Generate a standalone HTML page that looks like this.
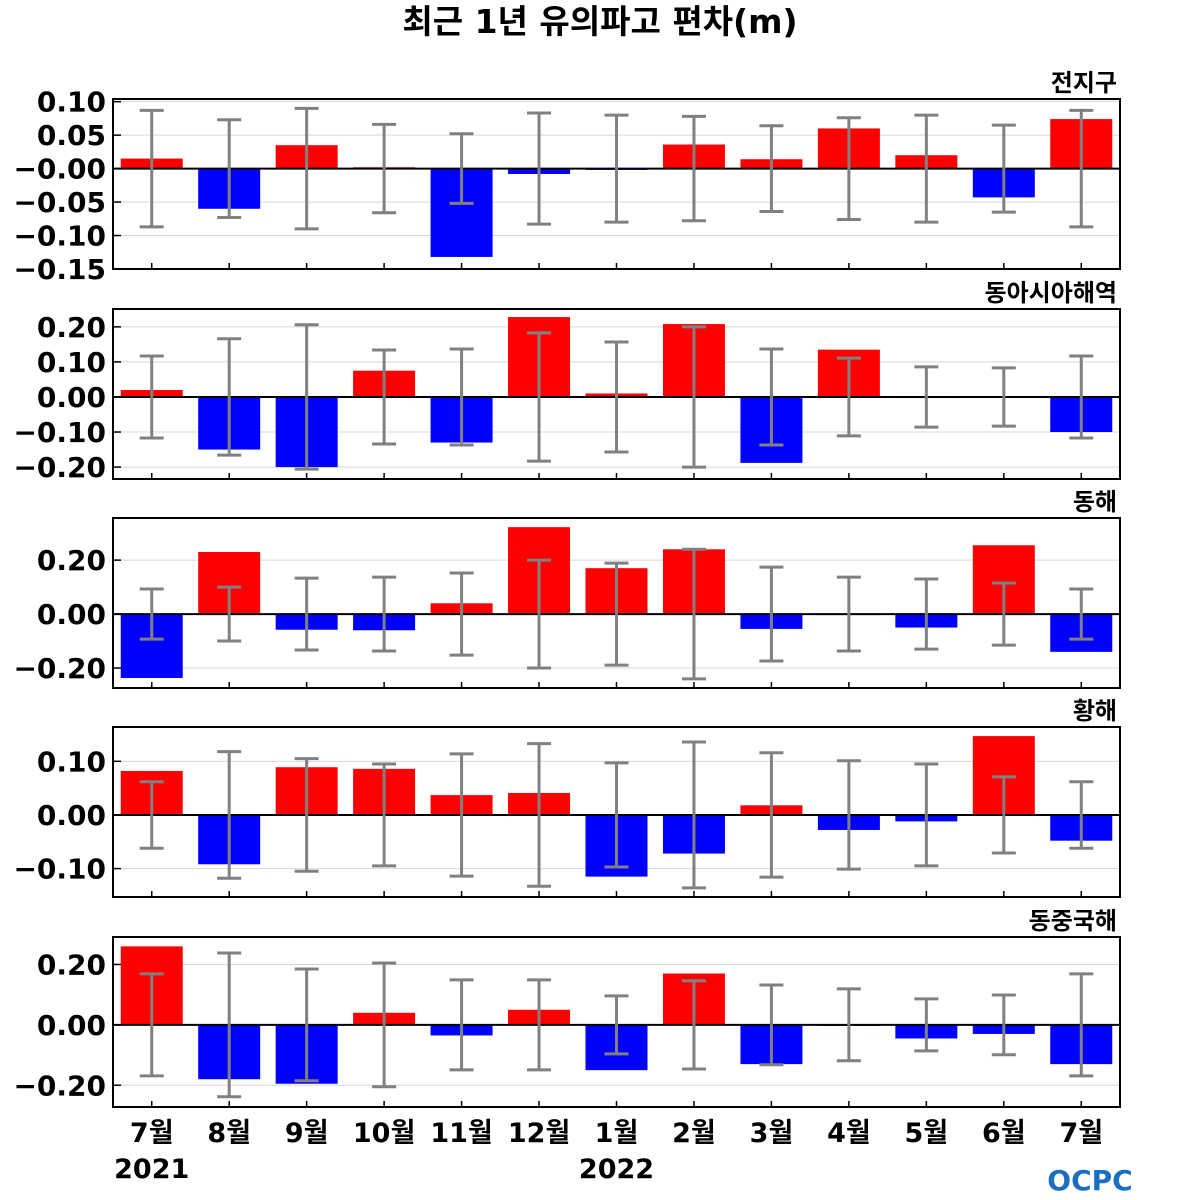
<!DOCTYPE html>
<html><head><meta charset="utf-8">
<style>
body{margin:0;background:#fff;width:1200px;height:1200px;overflow:hidden}
svg{display:block}
text{font-family:"DejaVu Sans","Noto Sans CJK KR",sans-serif;font-weight:bold}
</style></head>
<body>
<svg id="chart" width="1200" height="1200">
<text x="600" y="33" text-anchor="middle" font-size="33">최근 1년 유의파고 편차(m)</text>
<g id="panels"></g>
<text x="1090" y="1190" text-anchor="middle" font-size="28" fill="#1a6fc0" font-family="Liberation Sans">OCPC</text>
</svg>
<script>
const categories=["7월","8월","9월","10월","11월","12월","1월","2월","3월","4월","5월","6월","7월"];
const regionNames=["전지구","동아시아해역","동해","황해","동중국해"];
const valsGlobal=[0.015,-0.060,0.035,0.002,-0.132,-0.008,-0.002,0.036,0.014,0.060,0.020,-0.043,0.074];
const errGlobal=[0.087,0.073,0.090,0.066,0.052,0.083,0.080,0.078,0.064,0.076,0.080,0.065,0.087];
const valsEastAsia=[0.020,-0.150,-0.200,0.075,-0.130,0.228,0.010,0.208,-0.188,0.135,-0.003,-0.002,-0.100];
const errEastAsia=[0.117,0.166,0.206,0.134,0.137,0.183,0.157,0.200,0.137,0.111,0.086,0.083,0.117];
const valsEastSea=[-0.237,0.230,-0.058,-0.060,0.040,0.322,0.170,0.240,-0.055,0.000,-0.050,0.255,-0.140];
const errEastSea=[0.093,0.100,0.133,0.137,0.152,0.200,0.189,0.240,0.174,0.137,0.130,0.115,0.093];
const valsYellow=[0.082,-0.092,0.089,0.086,0.037,0.041,-0.115,-0.072,0.018,-0.028,-0.012,0.147,-0.048];
const errYellow=[0.062,0.118,0.105,0.095,0.114,0.133,0.097,0.136,0.116,0.101,0.095,0.071,0.062];
const valsECS=[0.260,-0.180,-0.195,0.040,-0.035,0.050,-0.150,0.170,-0.130,0.000,-0.045,-0.030,-0.130];
const errECS=[0.169,0.238,0.185,0.205,0.149,0.149,0.096,0.146,0.132,0.119,0.086,0.099,0.169];
const ticksGlobal=[0.10,0.05,0.00,-0.05,-0.10,-0.15];
const ticksEastAsia=[0.20,0.10,0.00,-0.10,-0.20];
const ticksEastSea=[0.20,0.00,-0.20];
const ticksYellow=[0.10,0.00,-0.10];
const ticksECS=[0.20,0.00,-0.20];
const yearLabels=["2021","2022"];

const NS="http://www.w3.org/2000/svg";
const g=document.getElementById('panels');
function el(t,a,p){const e=document.createElementNS(NS,t);for(const k in a)e.setAttribute(k,a[k]);(p||g).appendChild(e);return e;}
const X0=113,X1=1120,step=(X1-X0)/13;
function xc(i){return X0+step*(i+0.5);}
const panels=[
 {vals:valsGlobal,err:errGlobal,ticks:ticksGlobal,top:99,lo:-0.150,hi:0.104,negZero:true},
 {vals:valsEastAsia,err:errEastAsia,ticks:ticksEastAsia,top:309,lo:-0.234,hi:0.251},
 {vals:valsEastSea,err:errEastSea,ticks:ticksEastSea,top:518,lo:-0.274,hi:0.356},
 {vals:valsYellow,err:errYellow,ticks:ticksYellow,top:727,lo:-0.153,hi:0.164},
 {vals:valsECS,err:errECS,ticks:ticksECS,top:937,lo:-0.272,hi:0.291}
];
const H=170;
panels.forEach((p,pi)=>{
 const y=v=>p.top+(p.hi-v)/(p.hi-p.lo)*H;
 const t=el('text',{x:1117,y:p.top-8,'text-anchor':'end','font-size':24});
 t.textContent=regionNames[pi];
 
 
 p.ticks.forEach(v=>{
  if(Math.abs(v)>1e-9){const l=el('line',{x1:X0,x2:X1,y1:y(v),y2:y(v),stroke:'#d8d8d8','stroke-width':1});
  
  }
  const tl=el('line',{x1:X0,x2:X0+8,y1:y(v),y2:y(v),stroke:'#000','stroke-width':1.5});
  
  
  const tx=el('text',{x:106,y:y(v)+10,'text-anchor':'end','font-size':28});
  const neg=v<-1e-9||(Math.abs(v)<1e-9&&p.negZero);
  tx.textContent=(neg?'\u2212':'')+Math.abs(v).toFixed(2);
  
  
 });
 p.vals.forEach((v,i)=>{
  const w=62,x=xc(i)-w/2;
  const r=el('rect',{x:x,y:Math.min(y(v),y(0)),width:w,height:Math.max(Math.abs(y(v)-y(0)),1),fill:v>=0?'#ff0000':'#0000ff'});
  
  
 });
 el('line',{x1:X0,x2:X1,y1:y(0),y2:y(0),stroke:'#000','stroke-width':2});
 p.err.forEach((e,i)=>{
  const cx=xc(i);
  const eg=el('g',{stroke:'#808080','stroke-width':3});
  
  
  el('line',{x1:cx,x2:cx,y1:y(e),y2:y(-e)},eg);
  el('line',{x1:cx-12,x2:cx+12,y1:y(e),y2:y(e)},eg);
  el('line',{x1:cx-12,x2:cx+12,y1:y(-e),y2:y(-e)},eg);
  el('line',{x1:cx,x2:cx,y1:p.top+H,y2:p.top+H-6,stroke:'#000','stroke-width':1.5});
 });
 const fr=el('rect',{x:X0,y:p.top,width:X1-X0,height:H,fill:'none',stroke:'#000','stroke-width':2});
 
 
});
categories.forEach((c,i)=>{
 const t=el('text',{x:xc(i),y:1142,'text-anchor':'middle','font-size':27});
 t.textContent=c;
 
 
});
[[0,yearLabels[0]],[6,yearLabels[1]]].forEach(([i,s])=>{
 const t=el('text',{x:xc(i),y:1178,'text-anchor':'middle','font-size':27});
 t.textContent=s;
 
 
});
</script>
</body></html>
